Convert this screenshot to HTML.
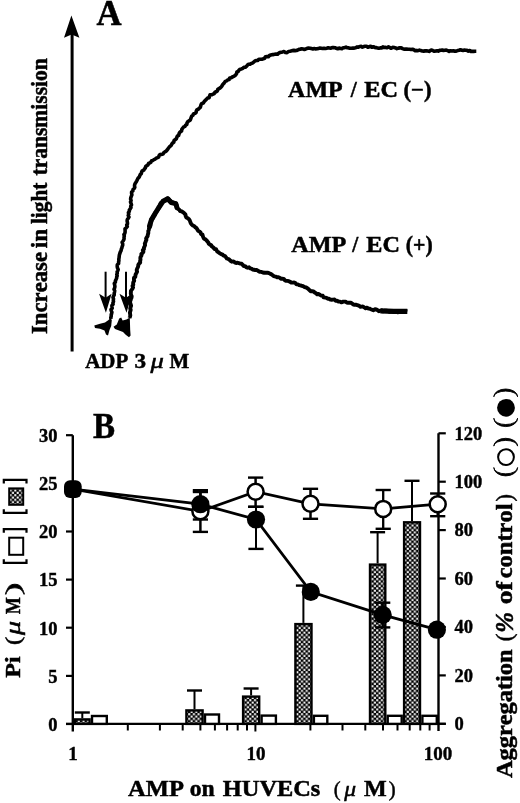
<!DOCTYPE html>
<html><head><meta charset="utf-8"><style>
html,body{margin:0;padding:0;background:#fff;}
svg{display:block;filter:grayscale(1);} text{font-kerning:none;}
</style></head><body>
<svg width="520" height="803" viewBox="0 0 520 803" font-family="Liberation Serif, serif">
<rect width="520" height="803" fill="#fff"/>
<line x1="72.1" y1="34" x2="72.1" y2="351.5" stroke="#000" stroke-width="3"/>
<path d="M71.4 15.4 L79.4 37.8 L71.6 34.5 L64 37.8 Z" fill="#000"/>
<polyline points="111.0,319.0 110.8,317.6 111.2,316.3 111.2,314.9 111.6,313.6 111.9,312.3 111.3,310.9 111.0,309.5 112.2,308.3 112.0,306.9 111.9,305.5 113.1,304.3 112.9,302.9 113.5,301.6 113.3,300.3 113.5,298.9 113.0,297.5 113.5,296.2 114.2,294.9 114.2,293.4 114.5,292.1 114.7,290.7 114.0,289.2 114.7,287.8 114.9,286.4 114.7,285.0 114.3,283.5 115.4,282.2 115.4,280.8 116.0,279.6 116.6,278.3 116.7,277.0 117.2,275.8 116.8,274.4 117.3,273.2 117.1,271.8 117.8,270.6 118.2,269.4 117.4,267.7 117.2,266.2 117.3,264.8 118.6,263.5 118.6,262.0 118.9,260.6 118.8,259.1 119.1,257.7 119.2,256.2 119.4,254.8 119.9,253.4 120.3,252.0 121.1,250.6 121.3,249.2 121.9,247.8 122.2,246.4 122.7,245.2 122.7,243.8 122.1,242.3 122.9,241.2 123.7,240.0 124.1,238.7 124.0,237.3 124.3,236.0 123.9,234.6 124.8,233.4 125.1,232.0 125.1,230.4 125.0,228.9 126.2,227.8 127.3,226.6 126.7,225.0 127.5,223.7 127.4,222.3 127.1,220.9 127.3,219.5 128.2,218.3 129.0,217.0 128.2,215.5 128.8,214.2 128.4,212.7 129.3,211.5 129.3,210.1 130.2,208.9 131.0,207.6 130.7,206.2 131.5,204.9 131.0,203.4 130.5,201.9 131.1,200.6 130.6,199.1 130.8,197.6 131.3,196.3 131.9,194.9 131.6,193.4 131.6,192.0 132.9,190.9 133.0,189.6 134.1,188.5 134.8,187.3 134.5,185.9 134.7,184.5 135.3,183.2 136.1,182.0 136.8,180.8 137.4,179.5 138.1,178.2 139.2,177.2 139.7,175.9 140.2,174.6 141.3,173.6 141.6,172.1 142.2,170.9 143.8,170.2 144.4,169.0 145.3,168.0 145.7,166.5 146.8,165.6 148.0,164.9 148.5,163.5 149.8,162.9 151.0,162.2 151.5,160.7 152.9,160.4 154.0,159.6 155.2,159.1 156.1,158.1 157.4,157.7 158.6,157.1 159.1,155.6 159.9,154.5 161.4,154.4 163.0,154.1 163.8,152.7 164.9,151.8 166.2,151.1 167.1,150.0 168.0,148.9 168.8,147.6 169.8,146.5 171.0,145.6 171.7,144.3 172.5,143.1 173.8,142.3 174.0,140.7 175.1,139.7 176.3,138.8 176.8,137.4 177.3,136.1 178.6,135.4 179.0,134.0 179.5,132.7 180.4,131.7 181.6,130.9 181.8,129.4 182.6,128.3 183.4,127.2 184.8,126.5 185.5,125.3 186.8,124.5 187.0,123.0 187.7,121.8 188.9,120.9 190.2,120.2 190.7,118.8 191.2,117.4 191.7,116.1 192.9,115.2 193.4,114.0 194.9,113.4 196.1,112.6 196.3,111.1 196.9,109.9 198.3,109.2 199.2,108.2 200.3,107.4 200.7,106.0 201.1,104.5 201.9,103.4 203.3,103.0 204.0,101.8 204.8,100.8 205.8,99.9 206.7,99.0 207.6,98.1 209.1,97.7 209.5,96.3 210.0,94.9 211.7,94.8 213.0,94.2 214.3,93.6 214.9,92.2 216.2,91.7 217.4,90.9 217.8,89.3 219.0,88.6 220.2,87.9 221.2,87.0 222.0,85.9 222.7,84.6 223.7,83.6 224.5,82.5 225.3,81.4 226.7,80.9 227.6,79.9 229.1,79.6 229.6,78.1 231.2,77.8 232.3,77.0 233.6,76.4 234.8,75.7 235.8,74.8 236.6,73.6 236.9,71.9 238.3,71.4 239.0,70.1 240.1,69.2 241.5,68.9 242.7,68.3 243.8,67.4 245.3,67.3 246.4,66.4 247.3,65.3 248.3,64.3 250.0,64.3 251.2,63.4 252.7,63.1 253.8,62.0 254.9,60.9 256.3,60.5 257.9,60.4 258.9,59.2 260.4,59.3 261.9,59.2 263.3,58.8 264.6,58.3 265.5,56.7 266.9,56.5 268.4,56.7 269.5,55.5 270.8,55.0 272.1,54.6 273.5,54.6 274.8,54.3 276.2,54.0 277.6,54.3 278.7,53.1 280.0,52.5 281.3,52.2 282.6,51.9 283.9,51.5 285.4,52.5 287.0,52.7 288.4,51.5 290.0,51.3 291.2,50.9 292.5,50.6 293.8,50.4 295.2,50.6 296.5,50.5 297.8,50.0 299.0,49.4 300.3,49.2 301.6,48.7 303.0,49.0 304.4,49.4 305.8,49.0 307.2,48.3 308.6,48.1 310.0,48.2 311.4,48.6 312.9,49.0 314.3,48.6 315.7,48.9 317.1,48.8 318.5,48.4 319.9,48.1 321.2,48.2 322.6,48.5 324.0,48.2 325.4,48.5 326.7,48.2 328.1,47.8 329.5,48.0 330.8,48.3 332.2,47.5 333.6,47.6 335.0,47.7 336.3,48.3 337.7,48.8 339.1,48.1 340.5,48.5 341.9,48.6 343.2,47.8 344.6,47.7 346.0,47.1 347.4,47.8 348.7,47.9 350.1,48.3 351.5,48.3 352.9,48.1 354.3,48.1 355.6,47.8 357.0,46.9 358.4,47.2 359.7,46.5 361.1,46.4 362.4,47.2 363.8,46.6 365.1,46.3 366.5,46.2 367.9,47.3 369.2,46.8 370.6,46.3 371.9,47.3 373.3,46.7 374.6,47.4 376.0,47.6 377.4,47.9 378.8,48.2 380.2,47.9 381.5,48.0 382.9,46.9 384.3,47.5 385.7,47.4 387.1,47.7 388.5,46.9 389.9,47.6 391.2,48.3 392.8,47.4 394.2,47.5 395.6,47.9 396.9,48.6 398.4,48.1 399.8,47.9 401.3,47.9 402.6,48.6 404.0,49.2 405.4,49.1 406.8,49.1 408.2,49.2 409.6,49.2 411.0,49.5 412.5,49.2 413.8,49.7 415.2,50.7 416.6,50.4 418.0,50.7 419.5,50.1 420.8,50.6 422.2,51.0 423.7,51.1 425.1,50.9 426.5,50.8 427.8,51.0 429.1,51.4 430.4,50.5 431.7,50.0 433.0,50.7 434.3,51.3 435.7,51.0 437.0,50.8 438.3,51.1 439.6,50.4 440.9,50.2 442.2,50.0 443.5,50.5 444.9,50.3 446.3,50.1 447.7,50.7 449.1,51.4 450.5,50.7 451.9,51.0 453.4,50.7 454.8,51.2 456.2,51.1 457.6,50.6 459.0,50.2 460.4,49.7 461.7,50.2 463.1,50.4 464.4,50.1 465.7,50.3 467.0,50.4 468.3,51.1 469.7,50.5 471.0,51.5 472.3,51.3 473.6,51.4 475.0,51.2 476.3,51.2" fill="none" stroke="#000" stroke-width="3.6" stroke-linejoin="round" stroke-linecap="butt"/>
<polyline points="129.4,318.0 130.0,316.7 130.3,315.3 130.1,313.9 129.9,312.6 130.3,311.2 130.7,309.9 130.2,308.5 130.6,307.1 131.1,305.8 130.7,304.4 130.2,303.0 130.0,301.6 130.6,300.3 130.9,298.9 131.5,297.6 131.7,296.3 131.1,294.9 130.8,293.6 130.9,292.2 130.9,290.9 131.8,289.7 132.6,288.5 133.1,287.3 132.5,285.9 133.3,284.7 133.1,283.3 133.4,282.0 134.2,280.8 133.9,279.3 134.0,277.9 135.3,276.9 135.4,275.5 135.7,274.2 136.4,273.0 137.1,271.7 136.7,270.1 137.1,268.8 137.7,267.5 138.2,266.2 138.3,264.8 139.1,263.6 140.2,262.5 140.1,261.0 140.5,259.6 140.3,258.1 140.6,256.8 141.5,255.6 141.3,254.1 142.6,253.0 143.4,251.8 142.8,250.2 144.0,249.0 143.9,247.6 144.6,246.3 145.1,245.1 144.8,243.6 145.4,242.4 145.8,241.1 146.4,239.9 146.1,238.5 146.8,237.3 147.6,236.1 147.8,234.8 148.3,233.1 148.3,231.1 148.8,229.9 149.0,228.5 149.8,227.4 150.3,226.1 150.5,224.8 150.2,223.4 150.9,222.2 151.4,220.9 151.2,219.5 152.5,218.6 153.3,217.5 153.3,215.9 154.7,215.2 154.7,213.6 155.4,212.4 156.5,211.5 157.3,210.4 158.0,209.3 158.8,208.2 159.3,206.9 159.8,205.6 160.2,204.3 160.7,203.0 162.1,202.3 163.2,201.5 164.3,200.8 165.6,200.4 166.5,199.3 167.7,198.3 168.8,199.3 169.2,200.8 170.7,201.2 171.3,202.3 172.8,202.4 174.2,203.4 175.9,203.5 176.5,204.8 176.8,206.1 177.0,207.5 177.8,208.8 179.2,209.6 180.0,211.0 181.8,211.4 183.1,212.3 184.3,213.3 185.4,214.4 185.7,216.1 186.3,217.5 187.8,218.2 189.0,219.2 189.8,220.5 190.3,222.0 190.9,223.4 191.8,224.6 192.9,225.6 194.4,226.3 195.4,227.4 196.6,228.2 197.4,229.6 198.2,230.8 199.5,231.6 200.6,232.5 201.0,234.1 202.5,234.6 202.8,236.1 203.4,237.5 204.0,238.8 205.5,239.4 206.5,240.4 207.4,241.4 208.3,242.5 208.8,243.8 209.8,244.6 211.2,245.1 211.8,246.4 212.9,247.1 213.8,248.0 214.6,249.1 216.2,249.3 216.7,250.7 217.5,251.7 218.8,252.5 219.9,253.3 221.2,254.1 222.6,254.6 223.6,255.7 225.1,256.1 226.0,257.3 226.9,258.5 228.3,259.0 229.5,259.7 230.6,260.9 231.8,261.7 233.6,261.4 234.7,262.4 236.1,263.0 237.7,262.7 238.9,263.2 240.3,263.6 241.7,263.8 242.7,264.8 243.7,266.1 245.2,266.1 246.2,267.2 247.5,267.7 249.1,267.3 250.1,268.3 251.4,268.6 252.6,269.5 253.9,269.7 255.2,270.1 256.6,269.9 257.8,270.6 258.9,271.4 260.1,271.9 261.6,271.9 262.9,272.5 264.3,272.8 265.8,272.6 267.3,272.7 268.6,273.0 269.9,273.6 271.1,274.1 272.2,274.9 273.3,275.9 274.6,276.3 275.9,276.6 277.1,277.3 278.5,277.3 279.8,277.8 280.9,278.7 282.3,278.8 283.8,278.9 284.7,280.2 285.9,280.8 287.4,280.9 288.8,281.2 290.0,281.8 291.2,282.5 292.7,282.6 294.1,282.5 295.4,283.1 296.4,284.4 297.9,284.4 299.1,285.1 300.5,285.4 301.8,285.8 303.1,286.2 304.3,287.0 305.8,287.3 307.4,288.2 308.7,289.3 309.7,290.3 310.7,291.2 312.2,291.3 313.6,291.5 314.7,292.5 316.0,293.2 317.1,294.2 318.8,294.0 320.0,294.8 321.3,295.6 322.8,295.8 323.6,297.4 325.2,297.6 326.7,297.9 327.8,298.8 329.2,298.8 330.4,299.6 331.7,299.7 333.1,299.6 334.5,299.5 335.6,300.7 337.0,300.7 338.4,301.5 340.0,301.6 341.3,302.3 342.7,301.8 344.1,301.6 345.5,301.6 346.7,302.5 348.0,302.7 349.5,302.7 351.0,302.6 352.1,303.6 353.3,304.6 354.6,304.8 356.4,304.8 358.0,305.3 359.4,306.0 360.5,306.8 361.5,306.6 362.9,306.5 364.2,307.4 365.6,308.2 366.9,307.6 368.1,308.6 369.5,308.6 370.8,309.2 372.1,309.7 373.3,310.2 375.0,309.3 376.4,309.5 377.7,310.2 378.9,311.2 380.4,310.6 381.8,310.5 383.1,311.3 384.4,310.7 385.8,310.8 387.1,310.8 388.4,311.3 389.8,311.9 391.1,311.2 392.5,311.6 393.8,311.9 395.2,312.1 396.5,311.9 397.9,312.3 399.2,311.6 400.6,311.4 401.9,311.0 403.2,311.6 404.6,311.5 405.9,311.1 407.3,311.4" fill="none" stroke="#000" stroke-width="3.9" stroke-linejoin="round" stroke-linecap="butt"/>
<polyline points="149.5,226.0 151.5,219.6 155.0,213.8 158.5,208.0 163.0,201.3 167.7,198.8 171.2,202.5 175.8,203.6 176.9,207.5" fill="none" stroke="#000" stroke-width="5" stroke-linejoin="round" stroke-linecap="round"/>
<polyline points="380.4,310.9 387.1,311.2 393.8,311.4 407.3,311.4" fill="none" stroke="#000" stroke-width="5.2" stroke-linejoin="round" stroke-linecap="butt"/>
<path d="M94.3 325.5 L100 323.8 L105 322.5 L108.5 320 L110.5 318 L111.8 320 L111.2 326 L109.5 330 L108 335.5 L106 334.5 L104.5 330.5 L100 328.8 L95 328 Z" fill="#000"/>
<path d="M113.5 326.8 L116.8 324.4 L119.2 318.5 L121.2 317.5 L122.6 320.6 L126.5 319.6 L129.8 317.5 L130.2 330 L130.6 335.5 L129 337.3 L126 335 L123 332 L119.7 330.7 L115 329 Z" fill="#000"/>
<line x1="105.6" y1="271.7" x2="105.6" y2="300" stroke="#000" stroke-width="2"/>
<path d="M105.9 312.8 L111.6 293.8 L105.6 297.8 L99.1 293.8 Z" fill="#000"/>
<line x1="126.0" y1="271.7" x2="126.0" y2="300" stroke="#000" stroke-width="2"/>
<path d="M126.5 312.8 L132.0 293.8 L126.0 297.8 L119.5 293.8 Z" fill="#000"/>
<text x="96.61" y="25.40" font-size="35.50" font-weight="bold" font-style="normal" textLength="25.09" lengthAdjust="spacingAndGlyphs" stroke="#000" stroke-width="0.50">A</text>
<text x="288.12" y="96.50" font-size="22.50" font-weight="bold" font-style="normal" textLength="54.51" lengthAdjust="spacingAndGlyphs" stroke="#000" stroke-width="0.50">AMP</text>
<text x="350.86" y="96.50" font-size="22.50" font-weight="bold" font-style="normal" textLength="5.97" lengthAdjust="spacingAndGlyphs" stroke="#000" stroke-width="0.50">/</text>
<text x="364.33" y="96.50" font-size="22.50" font-weight="bold" font-style="normal" textLength="33.77" lengthAdjust="spacingAndGlyphs" stroke="#000" stroke-width="0.50">EC</text>
<text x="403.45" y="96.50" font-size="22.50" font-weight="bold" font-style="normal" textLength="27.99" lengthAdjust="spacingAndGlyphs" stroke="#000" stroke-width="0.50">(−)</text>
<text x="291.21" y="251.50" font-size="22.50" font-weight="bold" font-style="normal" textLength="55.02" lengthAdjust="spacingAndGlyphs" stroke="#000" stroke-width="0.50">AMP</text>
<text x="352.36" y="251.50" font-size="22.50" font-weight="bold" font-style="normal" textLength="5.97" lengthAdjust="spacingAndGlyphs" stroke="#000" stroke-width="0.50">/</text>
<text x="366.34" y="251.50" font-size="22.50" font-weight="bold" font-style="normal" textLength="33.66" lengthAdjust="spacingAndGlyphs" stroke="#000" stroke-width="0.50">EC</text>
<text x="405.80" y="251.50" font-size="22.50" font-weight="bold" font-style="normal" textLength="26.81" lengthAdjust="spacingAndGlyphs" stroke="#000" stroke-width="0.50">(+)</text>
<text x="85.25" y="368.10" font-size="21.50" font-weight="bold" font-style="normal" textLength="43.00" lengthAdjust="spacingAndGlyphs" stroke="#000" stroke-width="0.50">ADP</text>
<text x="134.58" y="368.10" font-size="21.50" font-weight="bold" font-style="normal" textLength="11.56" lengthAdjust="spacingAndGlyphs" stroke="#000" stroke-width="0.50">3</text>
<text x="150.58" y="368.10" font-size="21.50" font-weight="normal" font-style="italic" textLength="13.36" lengthAdjust="spacingAndGlyphs" stroke="#000" stroke-width="0.50">μ</text>
<text x="169.39" y="368.10" font-size="21.50" font-weight="bold" font-style="normal" textLength="19.71" lengthAdjust="spacingAndGlyphs" stroke="#000" stroke-width="0.50">M</text>
<text transform="translate(47.10,333.50) rotate(-90)" x="-0.52" y="0" font-size="23.00" font-weight="bold" font-style="normal" textLength="82.05" lengthAdjust="spacingAndGlyphs" stroke="#000" stroke-width="0.50">Increase</text>
<text transform="translate(47.10,247.90) rotate(-90)" x="-0.26" y="0" font-size="23.00" font-weight="bold" font-style="normal" textLength="19.47" lengthAdjust="spacingAndGlyphs" stroke="#000" stroke-width="0.50">in</text>
<text transform="translate(47.10,223.90) rotate(-90)" x="-0.17" y="0" font-size="23.00" font-weight="bold" font-style="normal" textLength="41.41" lengthAdjust="spacingAndGlyphs" stroke="#000" stroke-width="0.50">light</text>
<text transform="translate(47.10,175.40) rotate(-90)" x="-0.10" y="0" font-size="23.00" font-weight="bold" font-style="normal" textLength="117.27" lengthAdjust="spacingAndGlyphs" stroke="#000" stroke-width="0.50">transmission</text>
<defs><pattern id="chk" patternUnits="userSpaceOnUse" width="4.7" height="4.66"><rect width="4.7" height="4.66" fill="#000"/><rect x="0.2" y="0.2" width="2.05" height="2.05" fill="#fff"/><rect x="2.55" y="2.53" width="2.05" height="2.05" fill="#fff"/></pattern></defs>
<line x1="72.8" y1="435.2" x2="72.8" y2="731.5" stroke="#000" stroke-width="2.4"/>
<line x1="438.5" y1="433.3" x2="438.5" y2="731" stroke="#000" stroke-width="2.4"/>
<line x1="66" y1="723.9" x2="445.8" y2="723.9" stroke="#000" stroke-width="2.4"/>
<line x1="66" y1="724.0" x2="72.8" y2="724.0" stroke="#000" stroke-width="2.2"/>
<line x1="66" y1="675.9" x2="72.8" y2="675.9" stroke="#000" stroke-width="2.2"/>
<line x1="66" y1="627.7" x2="72.8" y2="627.7" stroke="#000" stroke-width="2.2"/>
<line x1="66" y1="579.6" x2="72.8" y2="579.6" stroke="#000" stroke-width="2.2"/>
<line x1="66" y1="531.5" x2="72.8" y2="531.5" stroke="#000" stroke-width="2.2"/>
<line x1="66" y1="483.3" x2="72.8" y2="483.3" stroke="#000" stroke-width="2.2"/>
<line x1="66" y1="435.2" x2="72.8" y2="435.2" stroke="#000" stroke-width="2.2"/>
<line x1="438.5" y1="723.8" x2="445.8" y2="723.8" stroke="#000" stroke-width="2.2"/>
<line x1="438.5" y1="675.4" x2="445.8" y2="675.4" stroke="#000" stroke-width="2.2"/>
<line x1="438.5" y1="627.0" x2="445.8" y2="627.0" stroke="#000" stroke-width="2.2"/>
<line x1="438.5" y1="578.5" x2="445.8" y2="578.5" stroke="#000" stroke-width="2.2"/>
<line x1="438.5" y1="530.1" x2="445.8" y2="530.1" stroke="#000" stroke-width="2.2"/>
<line x1="438.5" y1="481.7" x2="445.8" y2="481.7" stroke="#000" stroke-width="2.2"/>
<line x1="438.5" y1="433.3" x2="445.8" y2="433.3" stroke="#000" stroke-width="2.2"/>
<line x1="127.8" y1="723.9" x2="127.8" y2="730.5" stroke="#000" stroke-width="2"/>
<line x1="159.9" y1="723.9" x2="159.9" y2="730.5" stroke="#000" stroke-width="2"/>
<line x1="182.7" y1="723.9" x2="182.7" y2="730.5" stroke="#000" stroke-width="2"/>
<line x1="200.4" y1="723.9" x2="200.4" y2="730.5" stroke="#000" stroke-width="2"/>
<line x1="214.9" y1="723.9" x2="214.9" y2="730.5" stroke="#000" stroke-width="2"/>
<line x1="227.1" y1="723.9" x2="227.1" y2="730.5" stroke="#000" stroke-width="2"/>
<line x1="237.7" y1="723.9" x2="237.7" y2="730.5" stroke="#000" stroke-width="2"/>
<line x1="247.0" y1="723.9" x2="247.0" y2="730.5" stroke="#000" stroke-width="2"/>
<line x1="310.4" y1="723.9" x2="310.4" y2="730.5" stroke="#000" stroke-width="2"/>
<line x1="342.5" y1="723.9" x2="342.5" y2="730.5" stroke="#000" stroke-width="2"/>
<line x1="365.3" y1="723.9" x2="365.3" y2="730.5" stroke="#000" stroke-width="2"/>
<line x1="383.0" y1="723.9" x2="383.0" y2="730.5" stroke="#000" stroke-width="2"/>
<line x1="397.5" y1="723.9" x2="397.5" y2="730.5" stroke="#000" stroke-width="2"/>
<line x1="409.7" y1="723.9" x2="409.7" y2="730.5" stroke="#000" stroke-width="2"/>
<line x1="420.3" y1="723.9" x2="420.3" y2="730.5" stroke="#000" stroke-width="2"/>
<line x1="429.6" y1="723.9" x2="429.6" y2="730.5" stroke="#000" stroke-width="2"/>
<line x1="255.4" y1="723.9" x2="255.4" y2="731.5" stroke="#000" stroke-width="2"/>
<text x="57.5" y="730.8" text-anchor="end" font-weight="bold" font-size="18.5" stroke="#000" stroke-width="0.4">0</text>
<text x="57.5" y="682.7" text-anchor="end" font-weight="bold" font-size="18.5" stroke="#000" stroke-width="0.4">5</text>
<text x="57.5" y="634.5" text-anchor="end" font-weight="bold" font-size="18.5" stroke="#000" stroke-width="0.4">10</text>
<text x="57.5" y="586.4" text-anchor="end" font-weight="bold" font-size="18.5" stroke="#000" stroke-width="0.4">15</text>
<text x="57.5" y="538.3" text-anchor="end" font-weight="bold" font-size="18.5" stroke="#000" stroke-width="0.4">20</text>
<text x="57.5" y="490.1" text-anchor="end" font-weight="bold" font-size="18.5" stroke="#000" stroke-width="0.4">25</text>
<text x="57.5" y="442.0" text-anchor="end" font-weight="bold" font-size="18.5" stroke="#000" stroke-width="0.4">30</text>
<text x="454.5" y="730.1" font-weight="bold" font-size="18.5" stroke="#000" stroke-width="0.4">0</text>
<text x="454.5" y="681.7" font-weight="bold" font-size="18.5" stroke="#000" stroke-width="0.4">20</text>
<text x="454.5" y="633.3" font-weight="bold" font-size="18.5" stroke="#000" stroke-width="0.4">40</text>
<text x="454.5" y="584.8" font-weight="bold" font-size="18.5" stroke="#000" stroke-width="0.4">60</text>
<text x="454.5" y="536.4" font-weight="bold" font-size="18.5" stroke="#000" stroke-width="0.4">80</text>
<text x="454.5" y="488.0" font-weight="bold" font-size="18.5" stroke="#000" stroke-width="0.4">100</text>
<text x="454.5" y="439.6" font-weight="bold" font-size="18.5" stroke="#000" stroke-width="0.4">120</text>
<text x="72.9" y="760.4" text-anchor="middle" font-weight="bold" font-size="19" stroke="#000" stroke-width="0.4">1</text>
<text x="256.0" y="760.4" text-anchor="middle" font-weight="bold" font-size="19" stroke="#000" stroke-width="0.4">10</text>
<text x="438.0" y="760.4" text-anchor="middle" font-weight="bold" font-size="19" stroke="#000" stroke-width="0.4">100</text>
<line x1="82.3" y1="712.5" x2="82.3" y2="718.2" stroke="#000" stroke-width="2"/>
<line x1="74.8" y1="712.5" x2="89.8" y2="712.5" stroke="#000" stroke-width="2.4"/>
<rect x="75.1" y="719.4" width="14.5" height="4.5" fill="url(#chk)" stroke="#000" stroke-width="2.4"/>
<rect x="92.0" y="716.0" width="14.8" height="7.9" fill="#fff" stroke="#000" stroke-width="2.4"/>
<line x1="194.5" y1="690.5" x2="194.5" y2="709.2" stroke="#000" stroke-width="2"/>
<line x1="187.0" y1="690.5" x2="202.0" y2="690.5" stroke="#000" stroke-width="2.4"/>
<rect x="186.4" y="710.4" width="16.2" height="13.5" fill="url(#chk)" stroke="#000" stroke-width="2.4"/>
<rect x="205.0" y="714.5" width="14.0" height="9.4" fill="#fff" stroke="#000" stroke-width="2.4"/>
<line x1="251.1" y1="688.5" x2="251.1" y2="695.4" stroke="#000" stroke-width="2"/>
<line x1="243.6" y1="688.5" x2="258.6" y2="688.5" stroke="#000" stroke-width="2.4"/>
<rect x="243.1" y="696.6" width="16.1" height="27.3" fill="url(#chk)" stroke="#000" stroke-width="2.4"/>
<rect x="261.6" y="715.6" width="14.3" height="8.3" fill="#fff" stroke="#000" stroke-width="2.4"/>
<line x1="303.4" y1="585.6" x2="303.4" y2="622.9" stroke="#000" stroke-width="2"/>
<line x1="295.9" y1="585.6" x2="310.9" y2="585.6" stroke="#000" stroke-width="2.4"/>
<rect x="295.4" y="624.1" width="16.1" height="99.8" fill="url(#chk)" stroke="#000" stroke-width="2.4"/>
<rect x="313.9" y="715.8" width="13.4" height="8.1" fill="#fff" stroke="#000" stroke-width="2.4"/>
<line x1="377.6" y1="532.2" x2="377.6" y2="563.4" stroke="#000" stroke-width="2"/>
<line x1="370.1" y1="532.2" x2="385.1" y2="532.2" stroke="#000" stroke-width="2.4"/>
<rect x="370.0" y="564.6" width="15.3" height="159.3" fill="url(#chk)" stroke="#000" stroke-width="2.4"/>
<rect x="387.7" y="715.8" width="14.0" height="8.1" fill="#fff" stroke="#000" stroke-width="2.4"/>
<line x1="412.0" y1="480.8" x2="412.0" y2="521.1" stroke="#000" stroke-width="2"/>
<line x1="404.5" y1="480.8" x2="419.5" y2="480.8" stroke="#000" stroke-width="2.4"/>
<rect x="404.1" y="522.3" width="15.9" height="201.6" fill="url(#chk)" stroke="#000" stroke-width="2.4"/>
<rect x="422.4" y="715.8" width="14.4" height="8.1" fill="#fff" stroke="#000" stroke-width="2.4"/>
<line x1="200.4" y1="492.0" x2="200.4" y2="519.5" stroke="#000" stroke-width="2"/>
<line x1="192.8" y1="492.0" x2="208.0" y2="492.0" stroke="#000" stroke-width="2.4"/>
<line x1="200.4" y1="519.5" x2="200.4" y2="492.0" stroke="#000" stroke-width="2"/>
<line x1="192.8" y1="519.5" x2="208.0" y2="519.5" stroke="#000" stroke-width="2.4"/>
<line x1="256.0" y1="506.8" x2="256.0" y2="548.9" stroke="#000" stroke-width="2"/>
<line x1="248.4" y1="506.8" x2="263.6" y2="506.8" stroke="#000" stroke-width="2.4"/>
<line x1="256.0" y1="548.9" x2="256.0" y2="506.8" stroke="#000" stroke-width="2"/>
<line x1="248.4" y1="548.9" x2="263.6" y2="548.9" stroke="#000" stroke-width="2.4"/>
<line x1="382.7" y1="602.7" x2="382.7" y2="627.4" stroke="#000" stroke-width="2"/>
<line x1="375.1" y1="602.7" x2="390.3" y2="602.7" stroke="#000" stroke-width="2.4"/>
<line x1="382.7" y1="627.4" x2="382.7" y2="602.7" stroke="#000" stroke-width="2"/>
<line x1="375.1" y1="627.4" x2="390.3" y2="627.4" stroke="#000" stroke-width="2.4"/>
<line x1="200.4" y1="490.2" x2="200.4" y2="531.9" stroke="#000" stroke-width="2"/>
<line x1="192.8" y1="490.2" x2="208.0" y2="490.2" stroke="#000" stroke-width="2.4"/>
<line x1="200.4" y1="531.9" x2="200.4" y2="490.2" stroke="#000" stroke-width="2"/>
<line x1="192.8" y1="531.9" x2="208.0" y2="531.9" stroke="#000" stroke-width="2.4"/>
<line x1="255.6" y1="477.6" x2="255.6" y2="506.8" stroke="#000" stroke-width="2"/>
<line x1="248.0" y1="477.6" x2="263.2" y2="477.6" stroke="#000" stroke-width="2.4"/>
<line x1="255.6" y1="506.8" x2="255.6" y2="477.6" stroke="#000" stroke-width="2"/>
<line x1="248.0" y1="506.8" x2="263.2" y2="506.8" stroke="#000" stroke-width="2.4"/>
<line x1="310.5" y1="488.8" x2="310.5" y2="518.8" stroke="#000" stroke-width="2"/>
<line x1="302.9" y1="488.8" x2="318.1" y2="488.8" stroke="#000" stroke-width="2.4"/>
<line x1="310.5" y1="518.8" x2="310.5" y2="488.8" stroke="#000" stroke-width="2"/>
<line x1="302.9" y1="518.8" x2="318.1" y2="518.8" stroke="#000" stroke-width="2.4"/>
<line x1="383.2" y1="490.0" x2="383.2" y2="528.8" stroke="#000" stroke-width="2"/>
<line x1="375.6" y1="490.0" x2="390.8" y2="490.0" stroke="#000" stroke-width="2.4"/>
<line x1="383.2" y1="528.8" x2="383.2" y2="490.0" stroke="#000" stroke-width="2"/>
<line x1="375.6" y1="528.8" x2="390.8" y2="528.8" stroke="#000" stroke-width="2.4"/>
<line x1="437.7" y1="493.5" x2="437.7" y2="516.2" stroke="#000" stroke-width="2"/>
<line x1="430.1" y1="493.5" x2="445.3" y2="493.5" stroke="#000" stroke-width="2.4"/>
<line x1="437.7" y1="516.2" x2="437.7" y2="493.5" stroke="#000" stroke-width="2"/>
<line x1="430.1" y1="516.2" x2="445.3" y2="516.2" stroke="#000" stroke-width="2.4"/>
<polyline points="72.9,489.2 200.4,504.2 256.0,519.5 310.8,591.9 382.7,614.9 436.9,629.7" fill="none" stroke="#000" stroke-width="2.8"/>
<polyline points="72.9,489.2 200.4,511.3 255.6,491.7 310.5,503.8 383.2,508.9 437.7,504.2" fill="none" stroke="#000" stroke-width="2.7"/>
<circle cx="200.4" cy="511.3" r="8.0" fill="#fff" stroke="#000" stroke-width="2.5"/>
<circle cx="255.6" cy="491.7" r="8.0" fill="#fff" stroke="#000" stroke-width="2.5"/>
<circle cx="310.5" cy="503.8" r="8.0" fill="#fff" stroke="#000" stroke-width="2.5"/>
<circle cx="383.2" cy="508.9" r="8.0" fill="#fff" stroke="#000" stroke-width="2.5"/>
<circle cx="437.7" cy="504.2" r="8.0" fill="#fff" stroke="#000" stroke-width="2.5"/>
<circle cx="200.4" cy="504.2" r="9.1" fill="#000"/>
<circle cx="256.0" cy="519.5" r="9.1" fill="#000"/>
<circle cx="310.8" cy="591.9" r="9.1" fill="#000"/>
<circle cx="382.7" cy="614.9" r="9.1" fill="#000"/>
<circle cx="436.9" cy="629.7" r="9.1" fill="#000"/>
<rect x="64" y="480.2" width="17.7" height="17.9" rx="6" fill="#000"/>
<text x="93.00" y="438.30" font-size="35.00" font-weight="bold" font-style="normal" textLength="22.07" lengthAdjust="spacingAndGlyphs" stroke="#000" stroke-width="0.50">B</text>
<text x="128.11" y="795.80" font-size="23.00" font-weight="bold" font-style="normal" textLength="55.83" lengthAdjust="spacingAndGlyphs" stroke="#000" stroke-width="0.50">AMP</text>
<text x="189.75" y="795.80" font-size="23.00" font-weight="bold" font-style="normal" textLength="24.96" lengthAdjust="spacingAndGlyphs" stroke="#000" stroke-width="0.50">on</text>
<text x="222.83" y="795.80" font-size="23.00" font-weight="bold" font-style="normal" textLength="97.51" lengthAdjust="spacingAndGlyphs" stroke="#000" stroke-width="0.50">HUVECs</text>
<text x="333.74" y="795.80" font-size="22.00" font-weight="normal" font-style="normal" textLength="6.87" lengthAdjust="spacingAndGlyphs" stroke="#000" stroke-width="0.50">(</text>
<text x="344.27" y="795.80" font-size="22.00" font-weight="normal" font-style="italic" textLength="11.86" lengthAdjust="spacingAndGlyphs" stroke="#000" stroke-width="0.50">μ</text>
<text x="364.04" y="795.80" font-size="23.00" font-weight="bold" font-style="normal" textLength="22.70" lengthAdjust="spacingAndGlyphs" stroke="#000" stroke-width="0.50">M</text>
<text x="388.78" y="795.80" font-size="22.00" font-weight="normal" font-style="normal" textLength="6.87" lengthAdjust="spacingAndGlyphs" stroke="#000" stroke-width="0.50">)</text>
<text transform="translate(20.30,677.50) rotate(-90)" x="-0.16" y="0" font-size="22.00" font-weight="bold" font-style="normal" textLength="21.26" lengthAdjust="spacingAndGlyphs" stroke="#000" stroke-width="0.50">Pi</text>
<text transform="translate(20.30,644.20) rotate(-90)" x="-0.85" y="0" font-size="22.00" font-weight="normal" font-style="normal" textLength="8.30" lengthAdjust="spacingAndGlyphs" stroke="#000" stroke-width="0.50">(</text>
<text transform="translate(20.30,635.30) rotate(-90)" x="0.28" y="0" font-size="22.00" font-weight="normal" font-style="italic" textLength="14.11" lengthAdjust="spacingAndGlyphs" stroke="#000" stroke-width="0.50">μ</text>
<text transform="translate(20.30,614.00) rotate(-90)" x="-0.05" y="0" font-size="22.00" font-weight="bold" font-style="normal" textLength="16.71" lengthAdjust="spacingAndGlyphs" stroke="#000" stroke-width="0.50">M</text>
<text transform="translate(20.30,594.20) rotate(-90)" x="-0.98" y="0" font-size="22.00" font-weight="normal" font-style="normal" textLength="12.71" lengthAdjust="spacingAndGlyphs" stroke="#000" stroke-width="0.50">)</text>
<path d="M3.8 483.4 L3.8 479.9 L26.5 479.9 L26.5 483.4" fill="none" stroke="#000" stroke-width="2.2"/>
<path d="M3.8 509.3 L3.8 512.8 L26.5 512.8 L26.5 509.3" fill="none" stroke="#000" stroke-width="2.2"/>
<rect x="9.2" y="488.4" width="14" height="16.4" fill="url(#chk)" stroke="#000" stroke-width="2"/>
<path d="M3.8 532.7 L3.8 529.2 L26.5 529.2 L26.5 532.7" fill="none" stroke="#000" stroke-width="2.2"/>
<path d="M3.8 559.3 L3.8 562.8 L26.5 562.8 L26.5 559.3" fill="none" stroke="#000" stroke-width="2.2"/>
<rect x="9.2" y="537.7" width="14" height="17.1" fill="none" stroke="#000" stroke-width="2"/>
<text transform="translate(512.40,778.00) rotate(-90)" x="0.01" y="0" font-size="24.00" font-weight="bold" font-style="normal" textLength="128.61" lengthAdjust="spacingAndGlyphs" stroke="#000" stroke-width="0.50">Aggregation</text>
<text transform="translate(512.40,640.60) rotate(-90)" x="-0.76" y="0" font-size="24.00" font-weight="normal" font-style="normal" textLength="7.65" lengthAdjust="spacingAndGlyphs" stroke="#000" stroke-width="0.50">(</text>
<text transform="translate(512.80,631.30) rotate(-90)" x="-1.35" y="0" font-size="25.00" font-weight="bold" font-style="italic" textLength="20.67" lengthAdjust="spacingAndGlyphs" stroke="#000" stroke-width="0.50">%</text>
<text transform="translate(512.40,603.50) rotate(-90)" x="-0.79" y="0" font-size="24.00" font-weight="bold" font-style="normal" textLength="22.77" lengthAdjust="spacingAndGlyphs" stroke="#000" stroke-width="0.50">of</text>
<text transform="translate(512.40,577.70) rotate(-90)" x="-0.59" y="0" font-size="24.00" font-weight="bold" font-style="normal" textLength="74.75" lengthAdjust="spacingAndGlyphs" stroke="#000" stroke-width="0.50">control</text>
<text transform="translate(512.40,501.00) rotate(-90)" x="-0.47" y="0" font-size="24.00" font-weight="normal" font-style="normal" textLength="7.39" lengthAdjust="spacingAndGlyphs" stroke="#000" stroke-width="0.50">)</text>
<path d="M493.8 446.1 A11.90 7.80 0 0 1 517.6 446.1 A11.10 5.30 0 0 0 493.8 446.1 Z" fill="#000" stroke="#000" stroke-width="0.9" stroke-linejoin="round"/>
<path d="M493.8 467.5 A11.90 8.40 0 0 0 517.6 467.5 A11.10 5.90 0 0 1 493.8 467.5 Z" fill="#000" stroke="#000" stroke-width="0.9" stroke-linejoin="round"/>
<path d="M493.8 396.8 A11.90 7.80 0 0 1 517.6 396.8 A11.10 5.30 0 0 0 493.8 396.8 Z" fill="#000" stroke="#000" stroke-width="0.9" stroke-linejoin="round"/>
<path d="M493.8 418.2 A11.90 8.40 0 0 0 517.6 418.2 A11.10 5.90 0 0 1 493.8 418.2 Z" fill="#000" stroke="#000" stroke-width="0.9" stroke-linejoin="round"/>
<circle cx="506" cy="457.1" r="7.9" fill="none" stroke="#000" stroke-width="2"/>
<circle cx="506" cy="407.8" r="8.9" fill="#000"/>
</svg>
</body></html>
